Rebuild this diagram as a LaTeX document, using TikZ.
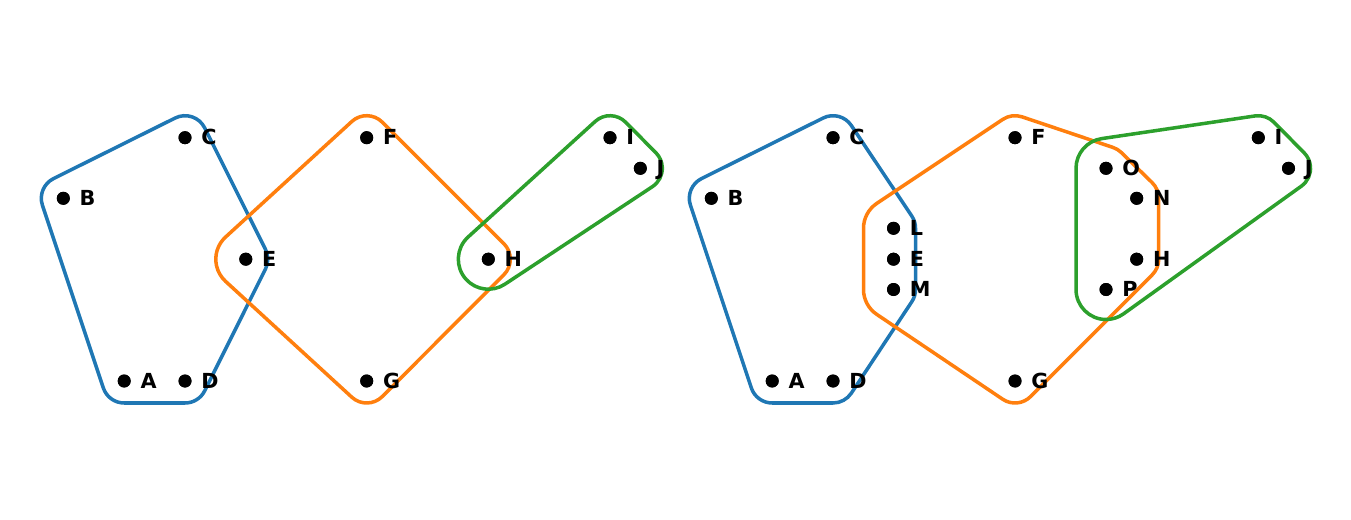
\documentclass[tikz,border=0pt]{standalone}
\usepackage{fontspec}
\setmainfont{DejaVu Sans}
\usetikzlibrary{calc}
\definecolor{tabblue}{HTML}{1F77B4}
\definecolor{taborange}{HTML}{FF7F0E}
\definecolor{tabgreen}{HTML}{2CA02C}
\newcommand\pxu{0.569055}
% hull piece: prev, rprev, cur, rcur, next, rnext (radii in px)
\newcommand\hullfirst[6]{let \p1=(#1.center), \p2=(#3.center), \p3=(#5.center),
  \n1={atan2(\y2-\y1,\x2-\x1)-90+asin((#2-#4)*\pxu/veclen(\x2-\x1,\y2-\y1))},
  \n2={atan2(\y3-\y2,\x3-\x2)-90+asin((#4-#6)*\pxu/veclen(\x3-\x2,\y3-\y2))},
  \n3={\n1+Mod(\n2-\n1+720,360)}
  in ($(#3.center)+(\n1:#4)$) arc[start angle=\n1, end angle=\n3, radius=#4]}
\newcommand\hullnext[6]{let \p1=(#1.center), \p2=(#3.center), \p3=(#5.center),
  \n1={atan2(\y2-\y1,\x2-\x1)-90+asin((#2-#4)*\pxu/veclen(\x2-\x1,\y2-\y1))},
  \n2={atan2(\y3-\y2,\x3-\x2)-90+asin((#4-#6)*\pxu/veclen(\x3-\x2,\y3-\y2))},
  \n3={\n1+Mod(\n2-\n1+720,360)}
  in -- ($(#3.center)+(\n1:#4)$) arc[start angle=\n1, end angle=\n3, radius=#4]}
\tikzset{
  dot/.style={circle, fill=black, inner sep=0pt, minimum size=0.26cm},
  lbl/.style={anchor=base west, inner sep=0pt, font=\fontsize{11.8}{14}\selectfont\bfseries},
  hull/.style={line width=2pt, line join=round}
}
\begin{document}
\begin{tikzpicture}[x=0.02cm,y=0.02cm]
\useasboundingbox (0,0) rectangle (1351,-520);
% left nodes
\node[dot] (lC) at (185,-137.7) {};
\node[dot] (lB) at (63.3,-198.3) {};
\node[dot] (lE) at (245.8,-259.2) {};
\node[dot] (lA) at (124.2,-381) {};
\node[dot] (lD) at (185,-381) {};
\node[dot] (lF) at (366.7,-137.7) {};
\node[dot] (lG) at (366.7,-381) {};
\node[dot] (lH) at (488.3,-259.2) {};
\node[dot] (lI) at (610,-137.7) {};
\node[dot] (lJ) at (640.3,-168.3) {};
% right nodes
\node[dot] (rC) at (833,-137.7) {};
\node[dot] (rB) at (711.3,-198.3) {};
\node[dot] (rA) at (772.2,-381) {};
\node[dot] (rD) at (833,-381) {};
\node[dot] (rL) at (893.5,-228.3) {};
\node[dot] (rE) at (893.5,-259.2) {};
\node[dot] (rM) at (893.5,-289.5) {};
\node[dot] (rF) at (1015,-137.7) {};
\node[dot] (rG) at (1015,-381) {};
\node[dot] (rO) at (1106,-168.3) {};
\node[dot] (rN) at (1136.7,-198.3) {};
\node[dot] (rH) at (1136.7,-259.2) {};
\node[dot] (rP) at (1106,-289.5) {};
\node[dot] (rI) at (1258.3,-137.7) {};
\node[dot] (rJ) at (1288.5,-168.3) {};
% left hulls
\draw[hull, tabblue] \hullfirst{lE}{22}{lC}{22}{lB}{22} \hullnext{lC}{22}{lB}{22}{lA}{22}
  \hullnext{lB}{22}{lA}{22}{lD}{22} \hullnext{lA}{22}{lD}{22}{lE}{22}
  \hullnext{lD}{22}{lE}{22}{lC}{22} -- cycle;
\draw[hull, taborange] \hullfirst{lH}{22}{lF}{22}{lE}{30} \hullnext{lF}{22}{lE}{30}{lG}{22}
  \hullnext{lE}{30}{lG}{22}{lH}{22} \hullnext{lG}{22}{lH}{22}{lF}{22} -- cycle;
\draw[hull, tabgreen] \hullfirst{lJ}{22}{lI}{22}{lH}{30} \hullnext{lI}{22}{lH}{30}{lJ}{22}
  \hullnext{lH}{30}{lJ}{22}{lI}{22} -- cycle;
% right hulls
\draw[hull, tabblue] \hullfirst{rL}{22}{rC}{22}{rB}{22} \hullnext{rC}{22}{rB}{22}{rA}{22}
  \hullnext{rB}{22}{rA}{22}{rD}{22} \hullnext{rA}{22}{rD}{22}{rM}{22}
  \hullnext{rD}{22}{rM}{22}{rL}{22} \hullnext{rM}{22}{rL}{22}{rC}{22} -- cycle;
\draw[hull, taborange] \hullfirst{rO}{22}{rF}{22}{rL}{30} \hullnext{rF}{22}{rL}{30}{rM}{30}
  \hullnext{rL}{30}{rM}{30}{rG}{22} \hullnext{rM}{30}{rG}{22}{rH}{22}
  \hullnext{rG}{22}{rH}{22}{rN}{22} \hullnext{rH}{22}{rN}{22}{rO}{22}
  \hullnext{rN}{22}{rO}{22}{rF}{22} -- cycle;
\draw[hull, tabgreen] \hullfirst{rI}{22}{rO}{30}{rP}{30} \hullnext{rO}{30}{rP}{30}{rJ}{22}
  \hullnext{rP}{30}{rJ}{22}{rI}{22} \hullnext{rJ}{22}{rI}{22}{rO}{30} -- cycle;
% dots on top and labels
\foreach \n/\t in {lA/A,lB/B,lC/C,lD/D,lE/E,lF/F,lG/G,lH/H,lI/I,lJ/J,
  rA/A,rB/B,rC/C,rD/D,rE/E,rF/F,rG/G,rH/H,rI/I,rJ/J,rL/L,rM/M,rN/N,rO/O,rP/P}{
  \fill (\n.center) circle[radius=6.5];
  \node[lbl] (t\n) at ($(\n.center)+(16,-7.3)$) {\t};
}
\end{tikzpicture}
\end{document}
